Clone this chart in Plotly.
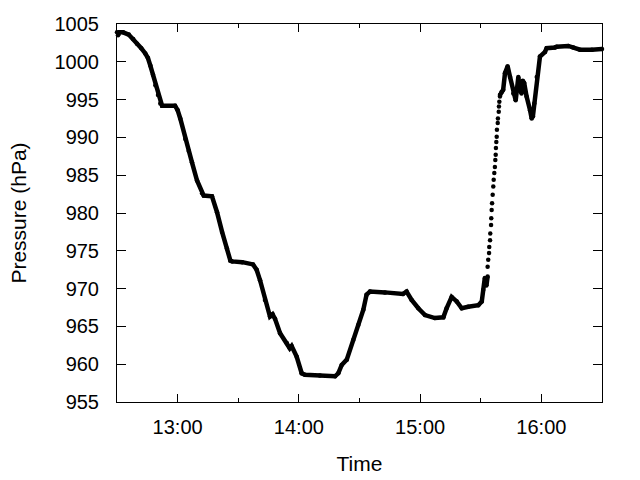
import plotly.graph_objects as go

DAY = "2024-01-01 "

# Segment before the steep rise (dense samples, drawn as a thick trace)
times_a = ["12:30:00", "12:30:30", "12:31:12", "12:33:00", "12:35:48", "12:38:00", "12:39:54",
           "12:42:00", "12:44:00", "12:45:18", "12:46:30", "12:47:48", "12:49:00", "12:50:18",
           "12:51:24", "12:52:18", "12:58:42", "13:00:00", "13:01:18", "13:03:48", "13:05:30",
           "13:07:06", "13:09:36", "13:12:06", "13:12:54", "13:17:00", "13:19:30", "13:22:00",
           "13:24:24", "13:26:06", "13:27:00", "13:32:00", "13:37:18", "13:39:06", "13:40:48",
           "13:43:12", "13:45:42", "13:47:00", "13:48:12", "13:50:42", "13:54:00", "13:55:30",
           "13:56:24", "13:58:54", "14:01:24", "14:03:00", "14:10:24", "14:17:54", "14:19:30",
           "14:21:12", "14:23:42", "14:26:54", "14:29:24", "14:31:54", "14:33:30", "14:35:12",
           "14:42:36", "14:51:30", "14:53:18", "14:55:48", "14:59:06", "15:02:24", "15:07:18",
           "15:11:30", "15:13:06", "15:15:36", "15:18:06", "15:20:36", "15:23:48", "15:28:48",
           "15:30:30", "15:31:12", "15:32:00", "15:32:48", "15:33:24"]
pressure_a = [1003.9, 1003.5, 1003.9, 1003.9, 1003.6, 1003.0, 1002.4,
              1001.8, 1001.1, 1000.5, 999.5, 998.3, 996.9, 995.6,
              994.5, 994.2, 994.2, 993.6, 992.5, 989.8, 988.2,
              986.7, 984.3, 982.6, 982.3, 982.2, 980.1, 977.5,
              975.3, 973.7, 973.6, 973.5, 973.2, 972.5, 971.1,
              968.5, 966.3, 966.6, 966.0, 964.1, 962.8, 962.1,
              962.4, 961.0, 958.8, 958.6, 958.5, 958.4, 958.8,
              959.9, 960.6, 963.2, 965.2, 967.2, 969.2, 969.6,
              969.5, 969.3, 969.6, 968.5, 967.4, 966.5, 966.1,
              966.2, 967.4, 968.9, 968.3, 967.4, 967.6, 967.8,
              968.3, 969.8, 971.4, 970.4, 971.6]

# Steep rise: individual samples visible as separate dots
times_b = ["15:33:24", "15:33:42", "15:34:06", "15:34:12", "15:34:36", "15:34:42", "15:35:06",
           "15:35:12", "15:35:24", "15:35:36", "15:35:54", "15:36:12", "15:36:24", "15:36:42",
           "15:37:00", "15:37:12", "15:37:24", "15:37:30", "15:37:42", "15:37:54", "15:38:00",
           "15:38:24", "15:38:30", "15:38:54", "15:39:00", "15:39:12", "15:39:30"]
pressure_b = [972.9, 973.8, 974.7, 975.5, 976.4, 977.3, 978.4,
              979.3, 980.4, 981.3, 982.4, 983.5, 984.4, 985.3,
              986.1, 987.0, 987.7, 988.6, 989.4, 990.1, 991.0,
              991.9, 992.5, 993.4, 994.1, 994.7, 995.4]

# After the rise
times_c = ["15:39:30", "15:40:18", "15:41:06", "15:42:00", "15:43:18", "15:44:30", "15:46:06",
           "15:47:18", "15:48:36", "15:49:18", "15:50:12", "15:50:48", "15:51:30", "15:52:00",
           "15:52:42", "15:54:24", "15:55:12", "15:55:48", "15:56:30", "15:57:42", "15:59:18",
           "16:01:48", "16:02:36", "16:06:42", "16:07:36", "16:13:18", "16:15:48", "16:19:06",
           "16:25:00", "16:30:00"]
pressure_c = [995.6, 996.0, 996.3, 998.5, 999.4, 998.0, 995.8,
              994.9, 998.0, 996.5, 995.8, 997.5, 997.2, 996.0,
              995.4, 993.6, 992.5, 992.8, 994.5, 998.0, 1000.7,
              1001.3, 1001.8, 1001.9, 1002.0, 1002.1, 1001.9, 1001.6,
              1001.6, 1001.7]

x_range = ["12:30:00", "16:30:00"]
y_range = [955, 1005]

FONT = "Liberation Sans, Arial, sans-serif"

fig = go.Figure()
fig.add_trace(go.Scatter(x=[DAY + t for t in times_a], y=pressure_a, mode="lines+markers",
                         line=dict(color="black", width=4.5), marker=dict(color="black", size=4.5),
                         cliponaxis=False, showlegend=False))
fig.add_trace(go.Scatter(x=[DAY + t for t in times_b], y=pressure_b, mode="markers",
                         marker=dict(color="black", size=4.5),
                         cliponaxis=False, showlegend=False))
fig.add_trace(go.Scatter(x=[DAY + t for t in times_c], y=pressure_c, mode="lines+markers",
                         line=dict(color="black", width=4.5), marker=dict(color="black", size=4.5),
                         cliponaxis=False, showlegend=False))

fig.update_layout(
    width=640, height=480,
    margin=dict(l=117, r=38, t=24, b=78),
    paper_bgcolor="white", plot_bgcolor="white",
    font=dict(family=FONT, size=20, color="black"),
    xaxis=dict(
        type="date", range=[DAY + x_range[0], DAY + x_range[1]], automargin=False,
        tickformat="%H:%M", dtick=3600000, tick0=DAY + "13:00:00",
        ticks="inside", ticklen=8, tickcolor="black", tickwidth=1,
        showline=True, linecolor="black", linewidth=1, mirror="allticks",
        showgrid=False, zeroline=False, ticklabelstandoff=7,
        tickfont=dict(size=20),
        minor=dict(ticks="inside", ticklen=4, dtick=1800000, tickcolor="black", showgrid=False),
        title=dict(text="Time", font=dict(size=21), standoff=19),
    ),
    yaxis=dict(
        range=y_range, dtick=5, tick0=955, automargin=False,
        ticks="inside", ticklen=9, tickcolor="black", tickwidth=1,
        showline=True, linecolor="black", linewidth=1, mirror="allticks",
        showgrid=False, zeroline=False, ticklabelstandoff=13,
        tickfont=dict(size=20),
        title=dict(text="Pressure (hPa)", font=dict(size=21), standoff=22),
    ),
)

fig.write_html("out.html", config={"displayModeBar": False},
               post_script="document.body.style.margin='0';")
